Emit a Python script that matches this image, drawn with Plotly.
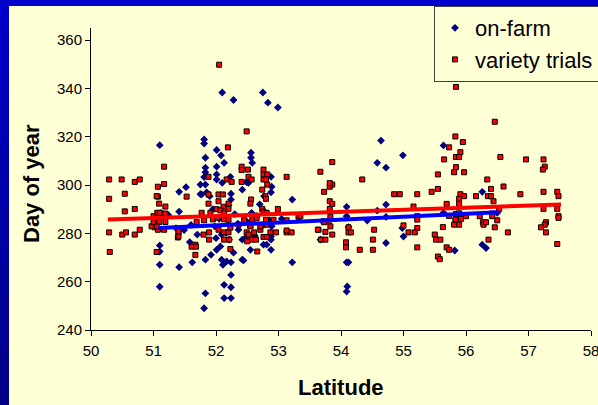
import plotly.graph_objects as go

# ---- data -------------------------------------------------------------
# (latitude, day of year) for the on-farm observations
onfarm_points = [
    (51.10, 316.5), (51.41, 297.2), (51.52, 299.1), (51.75, 296.2), (51.41, 289.0),
    (51.12, 288.5), (51.24, 287.5), (51.36, 282.2), (51.49, 281.4), (51.10, 275.0),
    (51.10, 272.5), (51.58, 276.4), (51.10, 267.0), (51.41, 266.0), (51.62, 268.0),
    (51.10, 257.9),
    (52.10, 338.3), (52.28, 335.2), (52.75, 338.3), (52.83, 334.1), (52.99, 332.1),
    (51.81, 318.9), (51.81, 317.2), (51.83, 311.3), (52.01, 314.5), (52.08, 312.3),
    (52.13, 309.2), (52.01, 307.6), (52.56, 313.4), (52.56, 311.3), (52.58, 309.2),
    (52.01, 304.4), (52.01, 302.3), (52.23, 303.4), (51.83, 307.2), (51.83, 305.3),
    (51.81, 303.3), (51.83, 300.2), (52.88, 303.4), (52.89, 299.3), (52.88, 297.0),
    (52.42, 298.1), (52.49, 301.2), (52.24, 296.4), (53.22, 294.0), (51.77, 296.1),
    (51.85, 297.0), (52.24, 294.0), (52.10, 300.9),
    (51.83, 269.1), (51.92, 271.1), (52.01, 273.2), (52.09, 269.1), (52.11, 267.0),
    (52.24, 268.0), (52.24, 262.8), (52.42, 269.1), (52.13, 258.7), (52.24, 257.7),
    (52.13, 253.2), (52.24, 253.2), (51.83, 255.2), (51.81, 249.0),
    (52.42, 277.4), (52.55, 273.2), (52.76, 275.3), (52.88, 273.2), (52.88, 277.4),
    (52.89, 282.9), (52.16, 280.2), (52.07, 274.6), (52.21, 277.4), (52.52, 300.9),
    (52.77, 295.4), (53.22, 268.0), (52.17, 268.4), (52.44, 268.8), (52.88, 278.7),
    (52.81, 275.3), (52.73, 282.9), (51.98, 282.9), (52.09, 279.5), (52.47, 278.1),
    (52.36, 281.5), (52.49, 285.0), (52.65, 287.1), (52.57, 288.5),
    (51.95, 290.0), (52.05, 286.0), (52.20, 291.5), (52.30, 288.0), (52.00, 278.0),
    (52.28, 272.0), (52.35, 284.0), (52.62, 279.0), (52.70, 292.0), (52.85, 285.5),
    (53.05, 286.0), (51.60, 283.5), (51.70, 279.5), (51.75, 300.2), (51.90, 295.4),
    (54.64, 318.4), (54.99, 312.3), (54.58, 309.2), (54.72, 307.2), (54.09, 291.0),
    (54.72, 291.9), (54.58, 289.4), (54.72, 286.8), (54.42, 285.3), (54.09, 287.1),
    (54.98, 282.2), (55.00, 278.7), (53.67, 277.4), (54.72, 276.0), (54.09, 268.0),
    (54.12, 268.0), (54.10, 258.0), (54.09, 255.9), (54.12, 282.6),
    (55.64, 316.4), (56.26, 297.2), (55.64, 288.5), (55.82, 272.9), (56.26, 275.3),
    (56.32, 273.9), (56.50, 288.5),
]

# (latitude, day of year) for the variety trials
trial_points = [
    (50.29, 302.3), (50.49, 302.3), (50.70, 301.3), (50.78, 302.3), (51.17, 307.6),
    (50.29, 294.3), (50.54, 296.4), (50.54, 289.1), (50.70, 290.1), (51.07, 299.3),
    (51.17, 300.4), (51.07, 295.2), (51.09, 292.3), (51.19, 291.1), (51.09, 288.2),
    (51.19, 288.2), (51.53, 295.2), (51.02, 284.7), (51.09, 284.7), (51.19, 284.7),
    (51.02, 282.5), (51.07, 281.5), (51.17, 281.5), (50.29, 280.4), (50.50, 279.5),
    (50.56, 280.4), (50.70, 279.5), (50.78, 281.5), (50.30, 272.3), (51.05, 272.3),
    (51.39, 278.3), (51.40, 280.4), (51.69, 284.7), (51.67, 275.3), (51.61, 274.5),
    (51.68, 274.5), (50.97, 282.9), (51.05, 282.9), (51.00, 284.6), (51.00, 287.1),
    (51.06, 288.5), (51.10, 288.5), (51.40, 280.8), (51.40, 278.7), (51.67, 271.1),
    (51.05, 295.4),
    (52.05, 349.8), (52.49, 322.2), (52.19, 315.6), (52.41, 307.6), (52.41, 306.2),
    (52.51, 306.4), (52.76, 306.4), (52.76, 304.4), (52.82, 304.4), (53.13, 303.4),
    (53.67, 305.5), (51.88, 303.4), (52.17, 302.3), (52.25, 301.3), (52.52, 303.4),
    (52.57, 302.3), (52.76, 302.3), (52.80, 302.3), (52.82, 300.2), (52.41, 301.3),
    (52.74, 298.1), (51.88, 296.1), (52.04, 296.1), (52.11, 296.1), (53.73, 297.2),
    (53.82, 299.3),
    (52.79, 295.4), (52.56, 294.0), (52.55, 292.3), (51.88, 292.3), (52.04, 293.3),
    (52.20, 292.3), (52.12, 291.0), (52.01, 290.0), (52.07, 289.5), (52.20, 290.1),
    (51.77, 288.5), (51.91, 288.5), (52.13, 288.3), (52.74, 290.1), (52.99, 290.1),
    (53.13, 285.4), (53.33, 287.1), (51.81, 285.4), (51.95, 285.8), (52.02, 286.5),
    (52.13, 285.8), (52.20, 285.6), (52.45, 285.5), (52.58, 285.6), (52.65, 286.2),
    (52.80, 285.6), (52.92, 285.6), (52.36, 283.6), (52.55, 283.2), (52.76, 283.6),
    (52.81, 283.6), (51.80, 279.5), (51.89, 280.4), (52.04, 281.5), (52.13, 280.4),
    (52.20, 280.4), (52.23, 282.4), (52.49, 280.4), (52.61, 280.4), (52.87, 280.4),
    (52.96, 280.4), (53.13, 280.4), (53.21, 280.4), (52.71, 281.5), (52.76, 278.5),
    (52.81, 278.5), (52.57, 277.4), (52.64, 277.4), (52.52, 279.5), (52.13, 277.4),
    (52.21, 277.4), (52.23, 273.5), (52.66, 272.5), (52.80, 294.3), (52.76, 289.0),
    (52.81, 288.5), (53.32, 286.8), (53.64, 281.5), (53.72, 285.0), (53.80, 285.0),
    (53.13, 281.2), (51.89, 277.4), (52.50, 276.7), (52.55, 282.9), (52.71, 282.9),
    (53.86, 309.5), (54.34, 302.3), (53.86, 300.2), (53.82, 300.8), (54.85, 296.2),
    (54.94, 296.2), (53.82, 293.3), (53.86, 292.2), (53.82, 290.1), (53.35, 287.1),
    (53.83, 286.8), (53.73, 284.6), (53.83, 282.9), (53.63, 281.5), (53.75, 280.6),
    (53.86, 279.5), (53.68, 277.4), (53.75, 277.4), (54.12, 282.5), (54.12, 280.4),
    (54.16, 280.4), (54.53, 281.5), (54.51, 277.4), (54.08, 276.3), (54.08, 274.2),
    (54.30, 273.2), (54.51, 273.2), (55.00, 283.3), (55.08, 280.4),
    (55.84, 340.6), (56.46, 326.2), (55.83, 320.1), (55.95, 317.8), (55.73, 315.6),
    (55.91, 313.6), (55.84, 311.6), (55.89, 311.6), (55.65, 310.6), (55.84, 307.4),
    (55.81, 305.3), (55.97, 305.3), (55.55, 304.4), (56.34, 302.3), (55.55, 298.4),
    (55.45, 297.2), (56.40, 298.4), (55.22, 296.2), (55.91, 296.2), (55.97, 295.4),
    (56.16, 295.4), (56.35, 295.4), (56.40, 295.4), (56.44, 293.3), (55.89, 294.3),
    (55.89, 292.2), (55.69, 292.2), (55.16, 291.1), (55.22, 287.1), (55.22, 285.7),
    (55.22, 282.2), (55.18, 280.4), (55.73, 287.2), (55.84, 288.0), (55.89, 288.3),
    (55.83, 285.7), (55.92, 286.0), (56.00, 287.1), (55.81, 283.6), (55.89, 283.6),
    (55.63, 282.6), (56.22, 287.1), (56.27, 284.6), (56.28, 283.6), (56.32, 284.6),
    (56.46, 282.5), (56.42, 288.2), (56.42, 287.1), (56.50, 285.4), (56.36, 277.4),
    (55.50, 279.5), (55.52, 277.4), (55.59, 277.4), (55.22, 274.2), (55.69, 274.2),
    (55.73, 273.2), (55.55, 270.4), (55.58, 269.3),
    (56.55, 311.6), (56.96, 310.6), (57.24, 310.6), (57.26, 307.6), (57.23, 306.4),
    (56.60, 299.4), (56.87, 296.2), (57.24, 297.2), (57.46, 297.2), (57.48, 295.4),
    (57.24, 290.1), (57.46, 290.1), (56.53, 290.1), (57.48, 287.1), (57.48, 286.4),
    (56.67, 280.4), (57.28, 284.6), (57.26, 283.6), (57.20, 282.5), (57.28, 280.4),
    (57.46, 275.6),
]

# linear trend end points (latitude, day of year)
onfarm_trend_lat = [51.08, 56.52]
onfarm_trend_day = [282.2, 288.7]
trial_trend_lat = [50.27, 57.52]
trial_trend_day = [285.7, 291.9]

x_ticks = [50, 51, 52, 53, 54, 55, 56, 57, 58]
y_ticks = [240, 260, 280, 300, 320, 340, 360]

series_names = ["on-farm", "variety trials"]
x_title = "Latitude"
y_title = "Day of year"

# ---- layout constants -------------------------------------------------
W, H = 598, 405
ML, MR, MT, MB = 91, 7, 28, 75
CREAM = "#FFFFD6"
FONT = "Liberation Sans, Arial, sans-serif"


def px_x(px):
    return (px - ML) / (W - ML - MR)


def px_y(py):
    return (H - MB - py) / (H - MT - MB)


farm_lat, farm_day = zip(*onfarm_points)
trial_lat, trial_day = zip(*trial_points)

fig = go.Figure()
fig.add_trace(go.Scatter(
    x=farm_lat, y=farm_day, mode="markers", name=series_names[0],
    marker=dict(symbol="diamond", size=6, color="#000080", line=dict(width=0)),
))
fig.add_trace(go.Scatter(
    x=trial_lat, y=trial_day, mode="markers", name=series_names[1],
    marker=dict(symbol="square", size=5, color="#FF0000",
                line=dict(color="#000000", width=1)),
))
fig.add_trace(go.Scatter(
    x=onfarm_trend_lat, y=onfarm_trend_day, mode="lines", showlegend=False,
    line=dict(color="#0000FF", width=4), hoverinfo="skip",
))
fig.add_trace(go.Scatter(
    x=trial_trend_lat, y=trial_trend_day, mode="lines", showlegend=False,
    line=dict(color="#FF0000", width=4), hoverinfo="skip",
))

# blue frame: solid band across the top, shaded band down the left side
shapes = [dict(type="rect", xref="paper", yref="paper",
               x0=px_x(0), x1=px_x(W), y0=px_y(6), y1=px_y(0),
               fillcolor="#0000CC", line=dict(width=0), layer="below")]
N = 45
for i in range(N):
    t = i / (N - 1)
    b = int(round(204 + (135 - 204) * t))
    shapes.append(dict(type="rect", xref="paper", yref="paper",
                       x0=px_x(0), x1=px_x(9),
                       y0=px_y(H * (i + 1) / N + 0.5), y1=px_y(H * i / N),
                       fillcolor=f"rgb(0,0,{b})", line=dict(width=0),
                       layer="below"))

axis_common = dict(
    showline=True, linecolor="#000000", linewidth=1,
    ticks="outside", ticklen=5, tickwidth=1, tickcolor="#000000",
    showgrid=False, zeroline=False, ticklabeloverflow="allow",
    tickfont=dict(family=FONT, size=15, color="#000000"),
)

fig.update_layout(
    width=W, height=H,
    margin=dict(l=ML, r=MR, t=MT, b=MB, pad=0, autoexpand=False),
    paper_bgcolor=CREAM, plot_bgcolor=CREAM,
    font=dict(family=FONT, color="#000000"),
    xaxis=dict(range=[50, 58], tickvals=x_ticks, ticklabelstandoff=2, **axis_common),
    yaxis=dict(range=[240, 365], tickvals=y_ticks, **axis_common),
    shapes=shapes,
    legend=dict(
        x=px_x(434), y=px_y(6), xanchor="left", yanchor="top",
        bgcolor=CREAM, bordercolor="#404040", borderwidth=1,
        font=dict(family=FONT, size=22, color="#000000"),
        tracegroupgap=0,
    ),
    annotations=[
        dict(text=f"<b>{x_title}</b>", xref="paper", yref="paper",
             x=px_x(341), y=px_y(387), xanchor="center", yanchor="middle",
             showarrow=False, font=dict(family=FONT, size=22, color="#000000")),
        dict(text=f"<b>{y_title}</b>", xref="paper", yref="paper",
             x=px_x(31), y=px_y(184), xanchor="center", yanchor="middle",
             textangle=-90, showarrow=False,
             font=dict(family=FONT, size=22, color="#000000")),
    ],
    showlegend=True,
)

fig.write_html("out.html")
